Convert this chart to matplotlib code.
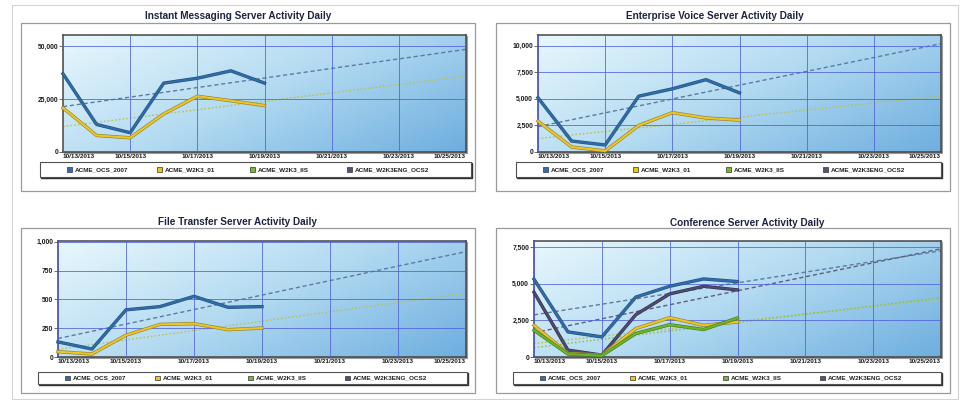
import numpy as np
import matplotlib
matplotlib.use("Agg")
import matplotlib.pyplot as plt
import matplotlib.dates as mdates
import matplotlib.patheffects as pe
from matplotlib.patches import Rectangle
from matplotlib.colors import LinearSegmentedColormap

plt.rcParams['font.family'] = ['Liberation Sans', 'DejaVu Sans']

# ---------------- data ----------------
dates = ['2013-10-13', '2013-10-14', '2013-10-15', '2013-10-16',
         '2013-10-17', '2013-10-18', '2013-10-19']
axis_start = '2013-10-13'
axis_end = '2013-10-25'
tick_dates = ['2013-10-13', '2013-10-15', '2013-10-17', '2013-10-19',
              '2013-10-21', '2013-10-23', '2013-10-25']

series_names = ['ACME_OCS_2007', 'ACME_W2K3_01', 'ACME_W2K3_IIS', 'ACME_W2K3ENG_OCS2']

titles = ['Instant Messaging Server Activity Daily',
          'Enterprise Voice Server Activity Daily',
          'File Transfer Server Activity Daily',
          'Conference Server Activity Daily']

im_ocs = [36900, 13000, 9100, 32500, 34800, 38300, 32500]
im_w2k3_01 = [20800, 7800, 6700, 18000, 26300, 24200, 21900]

ev_ocs = [5100, 1030, 660, 5250, 5940, 6800, 5560]
ev_w2k3_01 = [2900, 470, 100, 2500, 3700, 3200, 3000]

ft_ocs = [131, 69, 409, 437, 526, 431, 437]
ft_w2k3_01 = [46, 26, 189, 283, 289, 237, 251]

cf_ocs = [5300, 1710, 1370, 4080, 4820, 5320, 5140]
cf_w2k3_01 = [2160, 250, 130, 1940, 2680, 2160, 2390]
cf_w2k3_iis = [1820, 200, 90, 1600, 2200, 1870, 2660]
cf_w2k3eng = [4410, 470, 130, 2880, 4300, 4820, 4570]

im_yticks = [0, 25000, 50000]
ev_yticks = [0, 2500, 5000, 7500, 10000]
ft_yticks = [0, 250, 500, 750, 1000]
cf_yticks = [0, 2500, 5000, 7500]

# ---------------- styles ----------------
line_col = {'ACME_OCS_2007': '#2f6caa', 'ACME_W2K3_01': '#efc424',
            'ACME_W2K3_IIS': '#6db52b', 'ACME_W2K3ENG_OCS2': '#4e4b73'}
edge_col = {'ACME_OCS_2007': '#26527e', 'ACME_W2K3_01': '#8f8430',
            'ACME_W2K3_IIS': '#447a20', 'ACME_W2K3ENG_OCS2': '#33314e'}
trend_col = {'ACME_OCS_2007': '#5b7ba2', 'ACME_W2K3_01': '#b9c24e',
             'ACME_W2K3_IIS': '#8cc24a', 'ACME_W2K3ENG_OCS2': '#5d5d7c'}
trend_ls = {'ACME_OCS_2007': (0, (3, 2)), 'ACME_W2K3_01': (0, (1.2, 1.5)),
            'ACME_W2K3_IIS': (0, (1.2, 1.5)), 'ACME_W2K3ENG_OCS2': (0, (3, 2))}
legend_col = ['#2f6db5', '#f2c418', '#78b82a', '#55527a']

W, H = 964, 400
fig = plt.figure(figsize=(W / 100, H / 100), dpi=100)
fig.patch.set_facecolor('white')


def frect(x0, y0, x1, y1):
    return [x0 / W, 1 - y1 / H, (x1 - x0) / W, (y1 - y0) / H]


def add_box(x0, y0, x1, y1, ec, lw, fc='none', z=0):
    r = Rectangle((x0 / W, 1 - y1 / H), (x1 - x0) / W, (y1 - y0) / H,
                  transform=fig.transFigure, fill=(fc != 'none'),
                  facecolor=fc, edgecolor=ec, linewidth=lw, zorder=z)
    fig.add_artist(r)


# page border
add_box(12, 5, 958, 399, '#d4d4d4', 0.8)

cmap = LinearSegmentedColormap.from_list('bg', ['#e8f7fd', '#b2daf1', '#6eaedf'])
gx, gy = np.meshgrid(np.linspace(0, 1, 200), np.linspace(1, 0, 100))
grad = 0.62 * gx + 0.38 * (1 - gy)

x_dates = mdates.datestr2num(dates)
x_end = mdates.datestr2num(axis_end)
x_start = mdates.datestr2num(axis_start)

panels = [
    dict(title=titles[0], tc=238, ty=16, frame=(21, 23, 475, 191), plot=(63, 35, 466, 152),
         leg=(40, 162, 471, 177), ylim=55200, yticks=im_yticks,
         data={'ACME_OCS_2007': im_ocs, 'ACME_W2K3_01': im_w2k3_01}),
    dict(title=titles[1], tc=715, ty=16, frame=(496, 23, 950, 191), plot=(538, 35, 941, 152),
         leg=(516, 162, 941, 177), ylim=11000, yticks=ev_yticks,
         data={'ACME_OCS_2007': ev_ocs, 'ACME_W2K3_01': ev_w2k3_01}),
    dict(title=titles[2], tc=238, ty=222, frame=(21, 228, 475, 393), plot=(58, 241, 466, 357),
         leg=(38, 372, 467, 384), ylim=1006, yticks=ft_yticks,
         data={'ACME_OCS_2007': ft_ocs, 'ACME_W2K3_01': ft_w2k3_01}),
    dict(title=titles[3], tc=747, ty=223, frame=(496, 228, 950, 393), plot=(534, 241, 941, 357),
         leg=(513, 372, 941, 384), ylim=7905, yticks=cf_yticks,
         data={'ACME_OCS_2007': cf_ocs, 'ACME_W2K3ENG_OCS2': cf_w2k3eng,
               'ACME_W2K3_01': cf_w2k3_01, 'ACME_W2K3_IIS': cf_w2k3_iis}),
]

for p in panels:
    fx0, fy0, fx1, fy1 = p['frame']
    add_box(fx0, fy0, fx1, fy1, '#9a9a9a', 0.9)
    fig.text(p['tc'] / W, 1 - p['ty'] / H, p['title'], ha='center', va='center',
             fontsize=7.2, fontweight='bold', color='#1e2440')

    x0, y0, x1, y1 = p['plot']
    # soft shadow of plot area
    add_box(x0 + 1, y0 + 1, x1 + 1, y1 + 1, '#9a9a9a', 0.8, fc='#9a9a9a', z=0.5)
    ax = fig.add_axes(frect(x0, y0, x1, y1))
    ax.set_zorder(1)
    ax.imshow(grad, extent=[0, 1, 0, 1], transform=ax.transAxes, aspect='auto',
              cmap=cmap, vmin=0, vmax=1, zorder=0, interpolation='bilinear')
    ax.set_xlim(x_start, x_end)
    ax.set_ylim(0, p['ylim'])
    ax.set_xticks(mdates.datestr2num(tick_dates))
    ax.set_xticklabels([mdates.num2date(t).strftime('%m/%d/%Y')
                        for t in mdates.datestr2num(tick_dates)])
    labs = ax.get_xticklabels()
    labs[0].set_ha('left')
    labs[-1].set_ha('right')
    ax.set_yticks(p['yticks'])
    ax.set_yticklabels(['{:,}'.format(v) for v in p['yticks']])
    ax.tick_params(axis='x', length=0, pad=1.5, labelsize=4.6, labelcolor='#1a1a1a')
    ax.tick_params(axis='y', length=3, width=0.6, color='#555555', pad=0.5,
                   labelsize=4.9, labelcolor='#1a1a1a')
    for lab in ax.get_xticklabels() + ax.get_yticklabels():
        lab.set_fontweight('bold')
    ax.grid(True, color='#5060dc', linewidth=0.7, alpha=0.8, zorder=1)
    ax.set_axisbelow(False)
    for s in ax.spines.values():
        s.set_color('#454545')
        s.set_linewidth(1.1)

    days = x_dates - x_dates[0]
    # trend lines
    for name, vals in p['data'].items():
        k, b = np.polyfit(days, np.array(vals, float), 1)
        xt = np.array([x_dates[0], x_end])
        yt = b + k * (xt - x_dates[0])
        ax.plot(xt, yt, color=trend_col[name], linestyle=trend_ls[name],
                linewidth=1.0, zorder=2)
    # series
    for name, vals in p['data'].items():
        ax.plot(x_dates, vals, color=line_col[name], linewidth=1.5, zorder=3,
                solid_joinstyle='round', clip_on=False,
                path_effects=[pe.Stroke(linewidth=2.4, foreground=edge_col[name]),
                              pe.Normal()])

    # legend box
    lx0, ly0, lx1, ly1 = p['leg']
    add_box(lx0 + 1.3, ly0 + 1.3, lx1 + 1.3, ly1 + 1.3, '#303030', 1.0, fc='#303030', z=2)
    add_box(lx0, ly0, lx1, ly1, '#505050', 0.8, fc='white', z=3)
    cy = (ly0 + ly1) / 2
    for i, (name, col) in enumerate(zip(series_names, legend_col)):
        sx = lx0 + [27, 117, 210, 307][i]
        add_box(sx, cy - 2.3, sx + 4.6, cy + 2.3, '#333333', 0.5, fc=col, z=4)
        fig.text((sx + 8) / W, 1 - cy / H, name, ha='left', va='center',
                 fontsize=4.6, fontweight='bold', color='#222222', zorder=5)

fig.savefig('out.png', dpi=100, facecolor='white')
